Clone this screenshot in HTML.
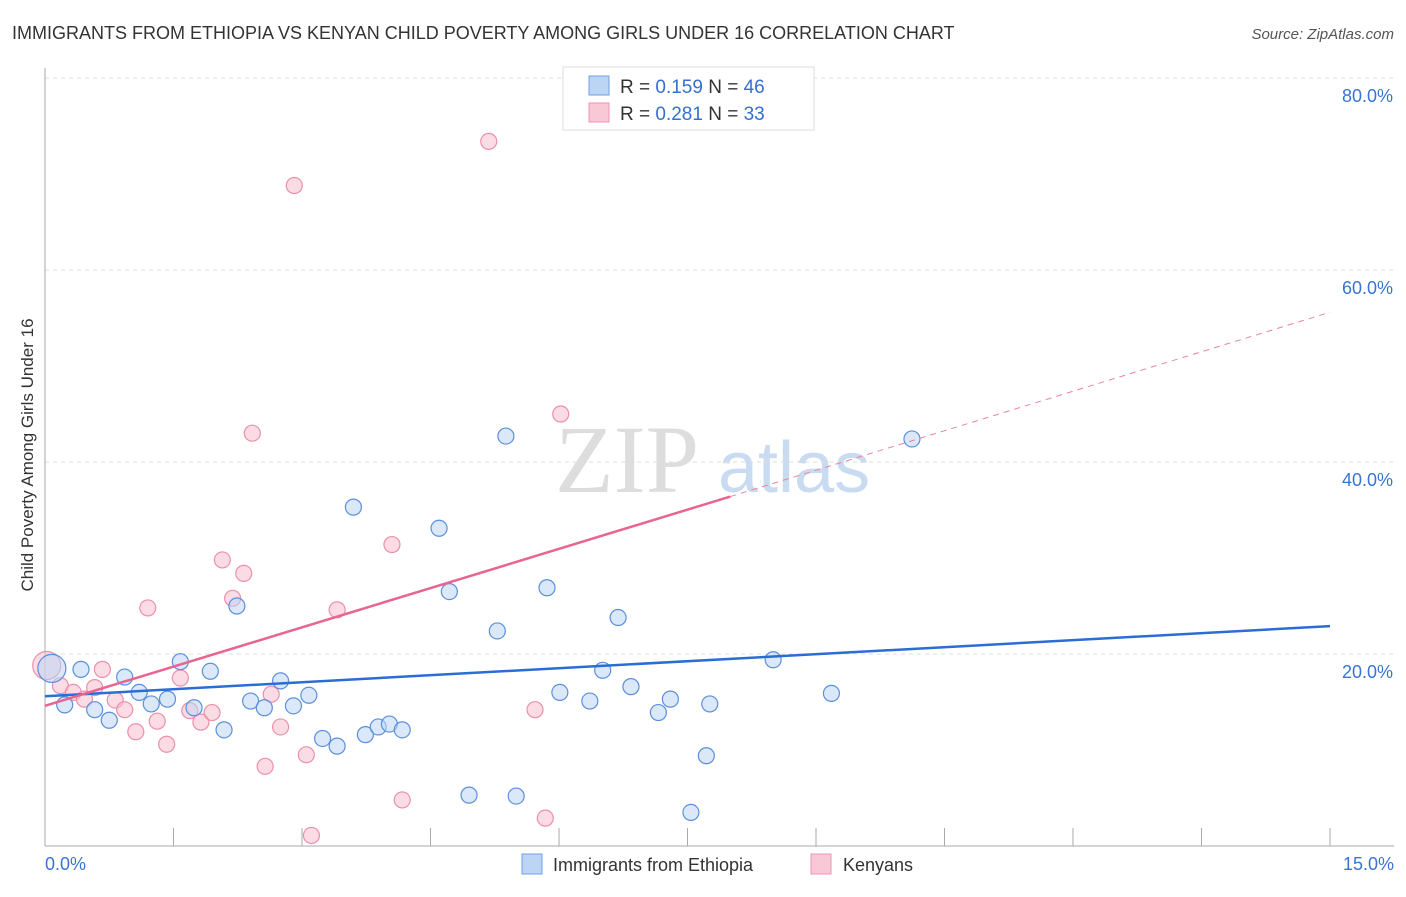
<!DOCTYPE html>
<html><head><meta charset="utf-8"><style>
body{margin:0;background:#fff;font-family:"Liberation Sans",sans-serif}
</style></head><body>
<svg width="1406" height="892" xmlns="http://www.w3.org/2000/svg" id="chart">
<text x="12" y="39" font-size="18" fill="#333">IMMIGRANTS FROM ETHIOPIA VS KENYAN CHILD POVERTY AMONG GIRLS UNDER 16 CORRELATION CHART</text>
<text x="1394" y="39" font-size="15" fill="#555" text-anchor="end" font-style="italic">Source: ZipAtlas.com</text>
<text transform="translate(33,455) rotate(-90)" font-size="17" fill="#333" text-anchor="middle">Child Poverty Among Girls Under 16</text>
<text x="555" y="492" font-size="96" fill="#ddd" font-family="Liberation Serif">ZIP</text>
<text x="718" y="492" font-size="72" fill="#c9dbf1">atlas</text>
<g id="grid"></g><g id="pts"></g><g id="lines"></g>
<g>
<rect x="563" y="67" width="251" height="63" fill="#fff" stroke="#ddd"/>
<rect x="589" y="76" width="20" height="19" fill="#bcd5f5" stroke="#6f9fe0"/>
<rect x="589" y="103" width="20" height="19" fill="#f9c8d6" stroke="#ec95ae"/>
<text x="620" y="93" font-size="19" fill="#333">R = <tspan fill="#3370d0">0.159</tspan>   N = <tspan fill="#3370d0">46</tspan></text>
<text x="620" y="120" font-size="19" fill="#333">R = <tspan fill="#3370d0">0.281</tspan>   N = <tspan fill="#3370d0">33</tspan></text>
</g>
<g>
<rect x="522" y="854" width="20" height="20" fill="#bcd5f5" stroke="#6f9fe0"/>
<text x="553" y="871" font-size="18" fill="#333">Immigrants from Ethiopia</text>
<rect x="811" y="854" width="20" height="20" fill="#f9c8d6" stroke="#ec95ae"/>
<text x="843" y="871" font-size="18" fill="#333">Kenyans</text>
</g>
</svg>
<script>
const yTicks=[20,40,60,80];
const xTickLabels=["0.0%","15.0%"];
const blueX=[0.08,0.23,0.42,0.58,0.75,0.93,1.10,1.24,1.43,1.58,1.74,1.93,2.09,2.24,2.40,2.56,2.75,2.90,3.08,3.24,3.41,3.60,3.74,3.89,4.02,4.17,4.60,4.72,4.95,5.28,5.38,5.50,5.86,6.01,6.36,6.51,6.69,6.84,7.16,7.30,7.54,7.72,7.76,8.50,9.18,10.12];
const blueY=[18.5,14.7,18.4,14.2,13.1,17.6,16.0,14.8,15.3,19.2,14.4,18.2,12.1,25.0,15.1,14.4,17.2,14.6,15.7,11.2,10.4,35.3,11.6,12.4,12.7,12.1,33.1,26.5,5.3,22.4,42.7,5.2,26.9,16.0,15.1,18.3,23.8,16.6,13.9,15.3,3.5,9.4,14.8,19.4,15.9,42.4];
const pinkX=[0.02,0.18,0.33,0.46,0.67,0.58,0.82,0.93,1.06,1.20,1.31,1.42,1.58,1.69,1.82,1.95,2.07,2.19,2.32,2.42,2.57,2.64,2.75,2.91,3.05,3.11,3.41,4.05,4.17,5.18,5.72,5.84,6.02];
const pinkY=[18.8,16.7,16.0,15.3,18.4,16.5,15.2,14.2,11.9,24.8,13.0,10.6,17.5,14.1,12.9,13.9,29.8,25.8,28.4,43.0,8.3,15.8,12.4,68.8,9.5,1.1,24.6,31.4,4.8,73.4,14.2,2.9,45.0];
const blueLine=[[0,15.6],[15,22.9]];
const pinkLine=[[0,14.6],[8,36.4],[15,55.6]];
const X=v=>45+v/15*1285, Y=v=>846-v/20*192;
const NS="http://www.w3.org/2000/svg";
function mk(t,a,p){const e=document.createElementNS(NS,t);for(const k in a)e.setAttribute(k,a[k]);p.appendChild(e);return e;}
const g=document.getElementById('grid');
yTicks.forEach(t=>{
 const l=mk('line',{x1:45,x2:1394,y1:Y(t),y2:Y(t),stroke:'#ddd','stroke-dasharray':'4,4'},g);
 
 
 const tx=mk('text',{x:1393,y:Y(t)+24,'font-size':18,fill:'#3b73d4','text-anchor':'end'},g);
 tx.textContent=t.toFixed(1)+'%';
 
 
});
const ax=mk('line',{x1:45,x2:45,y1:68,y2:846,stroke:'#aaa'},g);


const bx=mk('line',{x1:45,x2:1394,y1:846,y2:846,stroke:'#aaa'},g);


for(let i=1;i<=10;i++){const t=mk('line',{x1:X(i*1.5),x2:X(i*1.5),y1:828,y2:846,stroke:'#aaa'},g);
 
 }
[[0,'start',45],[1,'end',1394]].forEach(([i,a,x])=>{const t=mk('text',{x:x,y:870,'font-size':18,fill:'#3b73d4','text-anchor':a},g);t.textContent=xTickLabels[i];
 
 });
const p=document.getElementById('pts');
function dots(xs,ys,f,s,name){xs.forEach((x,i)=>{const c=mk('circle',{cx:X(x),cy:Y(ys[i]),r:i==0?14:8,fill:f,'fill-opacity':0.55,stroke:s,'stroke-width':1.2},p);
 
 });}
dots(pinkX,pinkY,'#f7bfd0','#ec8fab','kenyans-point');
dots(blueX,blueY,'#bcd5f5','#5b8fdc','ethiopia-point');
const L=document.getElementById('lines');
const bl=mk('line',{x1:X(blueLine[0][0]),y1:Y(blueLine[0][1]),x2:X(blueLine[1][0]),y2:Y(blueLine[1][1]),stroke:'#2a6dd4','stroke-width':2.5},L);


const pl=mk('line',{x1:X(pinkLine[0][0]),y1:Y(pinkLine[0][1]),x2:X(pinkLine[1][0]),y2:Y(pinkLine[1][1]),stroke:'#e8658f','stroke-width':2.5},L);


const pd=mk('line',{x1:X(pinkLine[1][0]),y1:Y(pinkLine[1][1]),x2:X(pinkLine[2][0]),y2:Y(pinkLine[2][1]),stroke:'#e8859f','stroke-width':1,'stroke-dasharray':'6,5'},L);


</script>
</body></html>
